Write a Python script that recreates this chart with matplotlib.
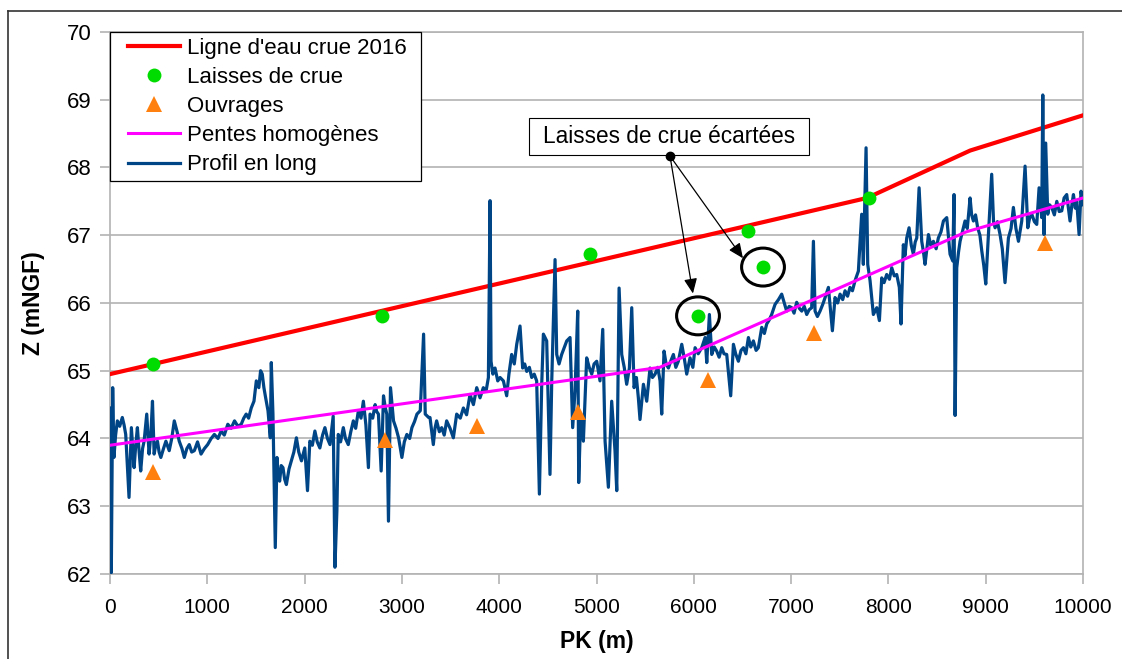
import matplotlib.pyplot as plt
from matplotlib.patches import Ellipse, Rectangle
from matplotlib.lines import Line2D
from matplotlib.legend_handler import HandlerLine2D
import numpy as np

plt.rcParams['font.family'] = ['Liberation Sans', 'DejaVu Sans']

# ligne d'eau de la crue 2016
pk_ligne = [0, 7780, 8840, 10000]
z_ligne = [64.95, 67.55, 68.25, 68.77]

# laisses de crue retenues
pk_laisses = [442, 2795, 4933, 6557, 7800]
z_laisses = [65.10, 65.81, 66.72, 67.06, 67.55]

# laisses de crue écartées (entourées)
pk_ecartees = [6043, 6711]
z_ecartees = [65.81, 66.53]

# ouvrages
pk_ouvrages = [442, 2826, 3772, 4810, 6146, 7235, 9609]
z_ouvrages = [63.50, 63.98, 64.18, 64.39, 64.86, 65.56, 66.88]

# pentes homogènes
pk_pentes = [0, 5650, 8800, 10000]
z_pentes = [63.90, 65.05, 67.05, 67.55]

# profil en long (points relevés)
pk_profil = [
    0, 14, 28, 41, 58, 76, 100, 127, 145, 162, 196, 220, 235, 248, 265, 282,
    300, 316, 335, 351, 378, 402, 420, 437, 454, 470, 488, 505, 523, 550,
    575, 609, 635, 661, 690, 712, 740, 764, 790, 815, 840, 867, 900, 936,
    970, 1004, 1040, 1073, 1110, 1142, 1175, 1211, 1245, 1280, 1315, 1349,
    1375, 1400, 1425, 1452, 1480, 1504, 1530, 1548, 1565, 1582, 1600, 1624,
    1648, 1658, 1675, 1699, 1716, 1730, 1744, 1760, 1778, 1795, 1813, 1840,
    1864, 1890, 1916, 1940, 1968, 2002, 2030, 2054, 2080, 2106, 2130, 2157,
    2185, 2209, 2235, 2261, 2294, 2312, 2332, 2346, 2370, 2398, 2420, 2449,
    2475, 2501, 2525, 2553, 2580, 2604, 2630, 2656, 2673, 2700, 2725, 2740,
    2759, 2787, 2811, 2830, 2845, 2862, 2883, 2914, 2940, 2966, 3000, 3025,
    3051, 3080, 3103, 3130, 3155, 3189, 3223, 3240, 3275, 3289, 3323, 3340,
    3357, 3385, 3409, 3435, 3460, 3495, 3529, 3563, 3600, 3632, 3665, 3700,
    3735, 3769, 3803, 3837, 3865, 3889, 3906, 3916, 3935, 3957, 3985, 4009,
    4043, 4077, 4100, 4128, 4155, 4180, 4214, 4241, 4262, 4283, 4310, 4334,
    4360, 4385, 4413, 4437, 4454, 4488, 4522, 4540, 4574, 4591, 4615, 4642,
    4670, 4694, 4728, 4755, 4779, 4807, 4817, 4838, 4865, 4899, 4925, 4951,
    4975, 5002, 5036, 5064, 5088, 5122, 5156, 5190, 5208, 5232, 5259, 5285,
    5310, 5338, 5362, 5386, 5410, 5430, 5447, 5482, 5516, 5550, 5575, 5602,
    5630, 5653, 5670, 5694, 5715, 5739, 5765, 5790, 5815, 5841, 5876, 5900,
    5927, 5961, 5990, 6013, 6045, 6081, 6116, 6133, 6160, 6184, 6210, 6235,
    6260, 6287, 6310, 6338, 6379, 6407, 6430, 6458, 6485, 6510, 6535, 6561,
    6585, 6612, 6640, 6663, 6698, 6725, 6749, 6775, 6800, 6835, 6870, 6903,
    6930, 6954, 6980, 7006, 7030, 7057, 7085, 7109, 7135, 7160, 7185, 7211,
    7229, 7246, 7270, 7297, 7325, 7349, 7383, 7424, 7451, 7478, 7503, 7530,
    7554, 7580, 7605, 7630, 7657, 7691, 7725, 7742, 7770, 7787, 7811, 7845,
    7880, 7907, 7931, 7955, 7982, 8010, 8034, 8060, 8085, 8112, 8129, 8153,
    8170, 8188, 8212, 8235, 8256, 8275, 8291, 8315, 8342, 8360, 8376, 8395,
    8411, 8435, 8462, 8490, 8513, 8540, 8565, 8599, 8633, 8661, 8674, 8685,
    8702, 8720, 8736, 8760, 8787, 8810, 8839, 8855, 8873, 8895, 8917, 8940,
    8959, 8980, 9000, 9027, 9061, 9080, 9096, 9120, 9147, 9170, 9198, 9233,
    9260, 9284, 9310, 9336, 9370, 9404, 9432, 9450, 9473, 9500, 9524, 9548,
    9575, 9586, 9599, 9616, 9637, 9655, 9678, 9705, 9730, 9755, 9781, 9805,
    9832, 9850, 9866, 9885, 9901, 9920, 9935, 9959, 9979, 10000]
z_profil = [
    64.45, 62.02, 64.75, 63.72, 64.05, 64.26, 64.18, 64.31, 64.20, 64.06,
    63.13, 64.16, 63.85, 63.57, 63.90, 64.16, 63.80, 63.52, 63.85, 63.96,
    64.36, 63.77, 64.05, 64.55, 63.77, 63.90, 63.96, 63.80, 63.72, 63.85,
    63.96, 63.82, 64.00, 64.26, 64.10, 63.96, 63.85, 63.72, 63.85, 63.91,
    63.80, 63.82, 63.95, 63.77, 63.85, 63.91, 64.00, 64.06, 64.00, 64.11,
    64.05, 64.21, 64.15, 64.26, 64.18, 64.21, 64.30, 64.36, 64.30, 64.45,
    64.55, 64.85, 64.75, 65.00, 64.95, 64.75, 64.60, 64.41, 64.01, 65.12,
    64.36, 62.39, 63.72, 63.45, 63.37, 63.60, 63.57, 63.40, 63.32, 63.55,
    63.67, 63.80, 64.01, 63.80, 63.67, 63.86, 63.23, 63.96, 63.90, 64.11,
    63.95, 63.86, 64.05, 64.16, 64.00, 63.91, 64.33, 62.10, 62.93, 64.06,
    63.95, 64.16, 64.00, 63.91, 64.10, 64.26, 64.15, 64.41, 64.30, 64.55,
    64.20, 63.57, 64.36, 64.30, 64.50, 64.40, 64.36, 63.52, 64.63, 64.45,
    64.36, 62.78, 64.75, 64.26, 64.15, 64.01, 63.72, 63.95, 64.06, 64.00,
    64.16, 64.25, 64.36, 64.41, 65.54, 64.36, 64.31, 64.31, 63.91, 64.15,
    64.26, 64.10, 64.16, 64.05, 64.26, 64.15, 64.01, 64.36, 64.30, 64.45,
    64.35, 64.65, 64.50, 64.75, 64.60, 64.75, 64.70, 64.90, 67.51, 65.14,
    64.95, 65.04, 64.85, 64.90, 64.85, 64.63, 64.95, 65.24, 65.10, 65.39,
    65.66, 65.04, 65.10, 64.99, 65.05, 64.90, 64.95, 64.85, 63.18, 64.80,
    65.54, 65.44, 63.47, 64.85, 66.64, 65.24, 65.10, 65.24, 65.35, 65.44,
    65.49, 64.16, 64.70, 65.88, 63.35, 64.36, 63.96, 65.19, 65.05, 64.95,
    65.10, 65.14, 64.85, 65.61, 63.96, 63.28, 64.55, 63.82, 63.23, 66.22,
    65.24, 65.05, 64.80, 65.04, 65.93, 64.75, 64.90, 64.60, 64.28, 64.80,
    64.55, 65.04, 64.90, 64.95, 65.05, 64.85, 64.36, 65.29, 65.10, 65.04,
    65.15, 65.24, 65.05, 65.14, 65.39, 65.20, 64.95, 65.19, 65.05, 65.34,
    65.25, 65.34, 65.49, 65.12, 65.83, 65.24, 65.35, 65.29, 65.20, 65.34,
    65.25, 65.24, 64.63, 65.39, 65.25, 65.14, 65.30, 65.34, 65.25, 65.49,
    65.35, 65.44, 65.30, 65.34, 65.64, 65.55, 65.69, 65.75, 65.83, 65.98,
    66.05, 66.13, 66.00, 65.88, 65.95, 65.93, 65.85, 66.01, 65.92, 65.88,
    65.95, 65.83, 65.90, 65.93, 66.91, 65.88, 65.80, 65.88, 65.98, 66.08,
    66.23, 65.59, 66.08, 66.00, 66.13, 66.05, 66.18, 66.10, 66.23, 66.18,
    66.33, 66.47, 67.31, 66.57, 68.29, 66.57, 66.33, 65.83, 65.93, 65.74,
    66.37, 66.30, 66.42, 66.35, 66.52, 66.40, 66.42, 66.23, 65.69, 66.86,
    66.70, 66.96, 67.11, 66.85, 66.72, 66.90, 66.96, 67.70, 66.91, 66.75,
    66.57, 66.80, 67.01, 66.85, 66.91, 66.80, 66.96, 67.05, 67.21, 67.26,
    66.72, 66.62, 67.60, 64.34, 66.52, 66.75, 66.91, 67.05, 67.21, 67.10,
    67.55, 67.30, 67.21, 67.30, 67.11, 67.00, 66.77, 66.55, 66.28, 67.01,
    67.90, 67.20, 67.11, 67.20, 67.01, 66.80, 66.30, 66.96, 67.10, 67.41,
    67.10, 66.91, 67.21, 68.02, 67.11, 67.25, 67.31, 67.20, 67.16, 67.70,
    67.26, 69.07, 67.01, 68.36, 67.31, 67.45, 67.41, 67.30, 67.50, 67.35,
    67.36, 67.55, 67.60, 67.40, 67.21, 67.45, 67.60, 67.40, 67.50, 67.01,
    67.65, 67.45]

fig = plt.figure(figsize=(11.22, 6.59), dpi=100)
ax = fig.add_axes([0.098, 0.129, 0.8673, 0.8225])

grey = '#b3b3b3'
ax.plot(pk_ligne, z_ligne, color='#ff0000', lw=3.0, zorder=3,
        label="Ligne d'eau crue 2016")
ax.plot(pk_profil, z_profil, color='#004586', lw=2.3, zorder=4,
        solid_joinstyle='round', label='Profil en long')
ax.plot(pk_pentes, z_pentes, color='#ff00ff', lw=2.2, zorder=5,
        label='Pentes homogènes')
ax.plot(pk_laisses + pk_ecartees, z_laisses + z_ecartees, 'o', color='#00dc00',
        ms=10, mew=0, zorder=6, label='Laisses de crue')
ax.plot(pk_ouvrages, z_ouvrages, '^', color='#ff800e', ms=11, mew=0, zorder=6,
        label='Ouvrages')

# cercles autour des laisses écartées
for x, y in zip(pk_ecartees, z_ecartees):
    ax.add_patch(Ellipse((x, y), 440, 0.56, fill=False, ec='black', lw=2.2,
                         zorder=7))

# étiquette et flèches vers les laisses écartées
ax.add_patch(Rectangle((4306, 68.18), 2878, 0.55, fc='white', ec='black',
                       lw=0.8, zorder=8))
ax.text(5745, 68.455, 'Laisses de crue écartées', fontsize=16.3,
        ha='center', va='center', zorder=9)
dot = (5755, 68.17)
for tip in [(5991, 66.14), (6505, 66.66)]:
    ax.annotate('', xy=tip, xytext=dot, zorder=9,
                arrowprops=dict(arrowstyle='-|>,head_length=0.45,head_width=0.2',
                                color='black', lw=0.9, mutation_scale=20,
                                shrinkA=0, shrinkB=0))
ax.plot(*dot, 'o', color='black', ms=6, zorder=10)

ax.set_xlim(0, 10000)
ax.set_ylim(62, 70)
ax.set_xticks(np.arange(0, 10001, 1000))
ax.set_yticks(np.arange(62, 71, 1))
ax.yaxis.grid(True, color=grey, lw=1.2)
ax.set_axisbelow(True)
for s in ax.spines.values():
    s.set_color(grey)
    s.set_linewidth(1.2)
ax.tick_params(axis='both', colors=grey, labelcolor='black', length=7, width=1.2)
ax.tick_params(axis='y', pad=6, labelsize=16)
ax.tick_params(axis='x', pad=10, labelsize=15)

ax.set_xlabel('PK (m)', fontsize=16.5, fontweight='bold', labelpad=10)
ax.set_ylabel('Z (mNGF)', fontsize=16.5, fontweight='bold', labelpad=16)

handles, labels = ax.get_legend_handles_labels()
order = [0, 3, 4, 2, 1]
shifted = HandlerLine2D(xpad=0.56)
leg = ax.legend([handles[i] for i in order], [labels[i] for i in order],
                loc='upper left', bbox_to_anchor=(0, 1, 0.3196, 0),
                mode='expand', fontsize=16, frameon=True, fancybox=False,
                framealpha=1, edgecolor='black', borderaxespad=0,
                handlelength=2.9, labelspacing=0.37, borderpad=0.25,
                handletextpad=0.3,
                handler_map={h: shifted for h in handles})
leg.get_frame().set_linewidth(0.9)
leg.set_zorder(11)

# cadre extérieur
fig.add_artist(Line2D([8 / 1122, 8 / 1122], [0, 1 - 11 / 659], color='#333333',
                      lw=1.2))
fig.add_artist(Line2D([8 / 1122, 1], [1 - 11 / 659, 1 - 11 / 659],
                      color='#333333', lw=1.2))

fig.savefig('out.png', dpi=100)
